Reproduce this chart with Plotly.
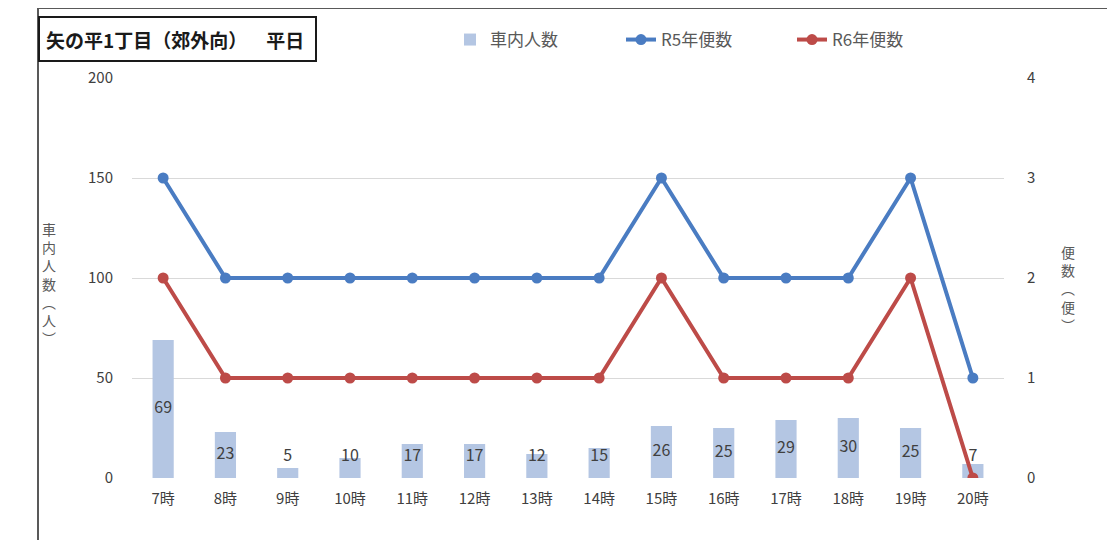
import plotly.graph_objects as go

# ---- data ----
hours = ["7時", "8時", "9時", "10時", "11時", "12時", "13時", "14時",
         "15時", "16時", "17時", "18時", "19時", "20時"]
riders = [69, 23, 5, 10, 17, 17, 12, 15, 26, 25, 29, 30, 25, 7]
r5_trips = [3, 2, 2, 2, 2, 2, 2, 2, 3, 2, 2, 2, 3, 1]
r6_trips = [2, 1, 1, 1, 1, 1, 1, 1, 2, 1, 1, 1, 2, 0]
title_text = "矢の平1丁目（郊外向）\u3000\u2002平日"

FONT = "Noto Sans CJK JP"
W, H = 1115, 540
OFF = 8  # page body margin
L, T = 132 - OFF, 78 - OFF
PW, PH = 872, 400
R, B = W - L - PW, H - T - PH

def px(x):
    return (x - OFF - L) / PW

def py(y):
    return (H - B - (y - OFF)) / PH

label_y = [max(v / 2, 10.5) for v in riders]

fig = go.Figure()
fig.add_trace(go.Bar(
    x=hours, y=riders, name="車内人数",
    marker=dict(color="#b4c6e3", line=dict(width=0)),
    width=0.34, yaxis="y",
))
fig.add_trace(go.Scatter(
    x=hours, y=label_y, text=[str(v) for v in riders], mode="text",
    textfont=dict(family=FONT, size=16, color="#404040"),
    showlegend=False, hoverinfo="skip", yaxis="y",
))
fig.add_trace(go.Scatter(
    x=hours, y=r5_trips, name="R5年便数", mode="lines+markers",
    line=dict(color="#4a7cc2", width=4),
    marker=dict(color="#4a7cc2", size=11),
    yaxis="y2",
))
fig.add_trace(go.Scatter(
    x=hours, y=r6_trips, name="R6年便数", mode="lines+markers",
    line=dict(color="#bd4b48", width=4),
    marker=dict(color="#bd4b48", size=11),
    yaxis="y2",
))

fig.update_layout(
    width=W, height=H,
    margin=dict(l=L, r=R, t=T, b=B, autoexpand=False),
    paper_bgcolor="white", plot_bgcolor="white",
    font=dict(family=FONT, color="#595959", size=14),
    xaxis=dict(
        type="category", range=[-0.5, len(hours) - 0.5],
        showgrid=False, zeroline=False, showline=False,
        ticks="", tickfont=dict(size=15, color="#404040"),
        ticklabelstandoff=10, automargin=False,
    ),
    yaxis=dict(
        range=[0, 200], dtick=50, showgrid=True, gridcolor="#d9d9d9",
        gridwidth=1, zeroline=False, showline=False, ticks="",
        tickfont=dict(size=15, color="#404040"), ticklabelstandoff=18,
        automargin=False,
    ),
    yaxis2=dict(
        range=[0, 4], dtick=1, overlaying="y", side="right",
        showgrid=False, zeroline=False, showline=False, ticks="",
        tickfont=dict(size=15, color="#404040"), ticklabelstandoff=22,
        automargin=False,
    ),
    legend=dict(
        orientation="h", x=px(450), y=py(40), xanchor="left", yanchor="middle",
        font=dict(size=17, color="#595959"), entrywidth=126,
        bgcolor="rgba(0,0,0,0)",
    ),
    shapes=[
        dict(type="rect", xref="paper", yref="paper",
             x0=px(38), x1=px(1108), y0=py(560), y1=py(8),
             line=dict(color="#595959", width=2), fillcolor="rgba(0,0,0,0)"),
        dict(type="rect", xref="paper", yref="paper",
             x0=px(39), x1=px(316), y0=py(61), y1=py(17),
             line=dict(color="#1a1a1a", width=2), fillcolor="rgba(0,0,0,0)"),
    ],
    annotations=[
        dict(xref="paper", yref="paper", x=px(44), y=py(39),
             xanchor="left", yanchor="middle", showarrow=False,
             text="<b>" + title_text + "</b>",
             font=dict(family=FONT, size=19, color="#1a1a1a")),
        dict(xref="paper", yref="paper", x=px(49), y=py(283),
             xanchor="center", yanchor="middle", showarrow=False,
             text="車<br>内<br>人<br>数<br>︵<br>人<br>︶",
             font=dict(family=FONT, size=14, color="#595959")),
        dict(xref="paper", yref="paper", x=px(1068), y=py(288),
             xanchor="center", yanchor="middle", showarrow=False,
             text="便<br>数<br>︵<br>便<br>︶",
             font=dict(family=FONT, size=14, color="#595959")),
    ],
)

fig.write_html("out.html")
